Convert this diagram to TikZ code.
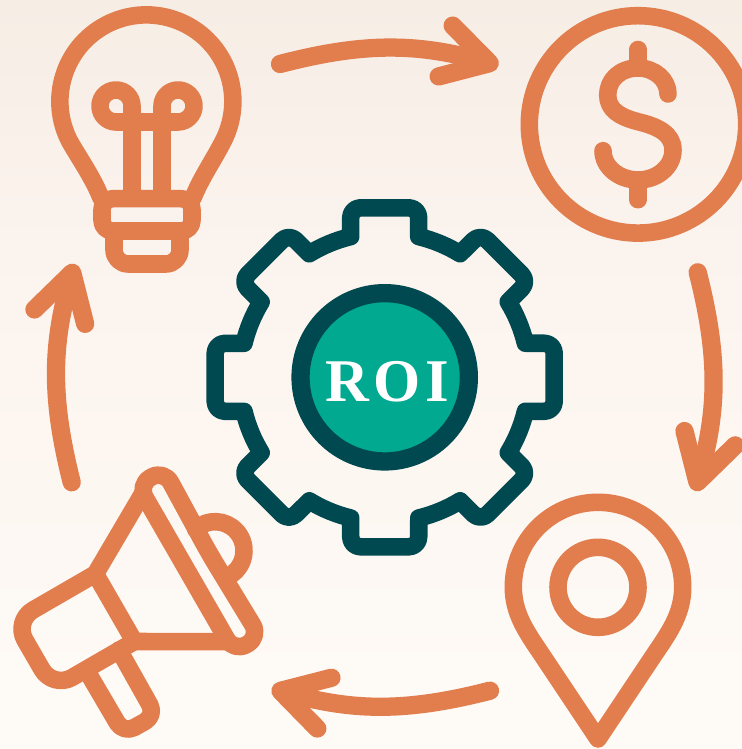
\documentclass[tikz,border=0pt]{standalone}
\usepackage{fontspec}
\usetikzlibrary{arrows.meta}
\newfontfamily\roifont[LetterSpace=8]{Liberation Serif}
\definecolor{iconorange}{HTML}{E27D4E}
\definecolor{geardark}{HTML}{014950}
\definecolor{roigreen}{HTML}{00A98F}
\definecolor{paper top}{HTML}{F6EEE5}
\definecolor{paper mid}{HTML}{FCF4EF}
\definecolor{paper low}{HTML}{FEFBF6}
\tikzset{
    icon/.style={draw=iconorange, line width=10pt, line cap=round, line join=round},
    cycle arrow/.style={icon, line width=10.4pt, bend left=15, -{Straight Barb[length=26pt 0 0, width=30pt 0 0, line width=0pt 1, round]}},
    gear/.style={draw=geardark, line width=10pt, line join=round},
    roi ring/.style={draw=geardark, fill=roigreen, circle, line width=10.4pt, minimum size=95.8pt, inner sep=0pt},
    roi text/.style={text=white, inner sep=0pt, font=\roifont\bfseries\fontsize{34.5}{34.5}\selectfont}
}
\begin{document}
\begin{tikzpicture}[x=0.02cm, y=-0.02cm]
        \useasboundingbox (0, 0) rectangle (742, 749);
        \clip (0, 0) rectangle (742, 749);
        \shade[top color=paper top, bottom color=paper mid] (0, 0) rectangle (742, 300);
        \shade[top color=paper mid, bottom color=paper low] (0, 300) rectangle (742, 749);

        % Arrow ends
        \coordinate (bulbOut) at (280, 64);
        \coordinate (coinIn) at (498.5, 65.6);
        \coordinate (coinOut) at (697.7, 272.3);
        \coordinate (pinIn) at (695, 491);
        \coordinate (pinOut) at (490, 690.7);
        \coordinate (hornIn) at (271.6, 688.4);
        \coordinate (hornOut) at (71.7, 482.3);
        \coordinate (bulbIn) at (74.7, 263.9);

        % Arrows
        \draw[cycle arrow] (bulbOut) to (coinIn);
        \draw[cycle arrow] (coinOut) to (pinIn);
        \draw[cycle arrow] (pinOut) to (hornIn);
        \draw[cycle arrow] (hornOut) to (bulbIn);

        % Bulb
        \draw[icon] (101, 198) .. controls (93, 178) and (81, 161) .. (70, 142) arc (152:388:86.5) .. controls (213, 161) and (201, 178) .. (193, 198);
        \draw[icon, rounded corners=6pt] (147, 198.7) -- (102, 198.7) -- (102, 231) -- (192, 231) -- (192, 198.7) -- cycle;
        \draw[icon, rounded corners=8pt] (114, 231) -- (114, 264) -- (180, 264) -- (180, 231);
        \draw[icon] (132, 198) -- (132, 106) arc (0:-270:16) -- (178, 122) arc (90:-180:16) -- (162, 198);

        % Coin
        \draw[icon] (638, 124.4) circle (108.7);
        \draw[icon] (638, 49.5) -- (638, 68);
        \draw[icon] (638, 180) -- (638, 199.7);
        \draw[icon] (668, 94) .. controls (668, 80) and (655, 68) .. (638, 68) .. controls (620, 68) and (607.7, 80) .. (607.7, 95) .. controls (607.7, 110) and (620, 117) .. (638, 121.7) .. controls (656, 126) and (673, 133) .. (673, 150) .. controls (673, 167) and (657, 180) .. (638, 180) .. controls (619, 180) and (603, 167) .. (603, 150.7);

        % Pin
        \draw[icon] (598, 739) -- (540, 652) .. controls (525, 630) and (513.3, 612) .. (513.3, 587) arc (180:360:84.7) .. controls (682.7, 612) and (671, 630) .. (656, 652) -- cycle;
        \draw[icon] (598, 587.3) circle (40);

        % Megaphone
        \draw[icon, rounded corners=8pt] (209, 553) -- (163.9, 469.9) -- (137.9, 484.9) -- (234, 651.8) -- (260, 636.8) -- cycle;
        \draw[icon] (142.8, 493.3) -- (95.4, 573.9);
        \draw[icon] (134.3, 641.5) -- (228.2, 641.7);
        \draw[icon] (95.4, 573.9) [rounded corners=12.5pt] -- (14, 621) -- (53, 688.5) [sharp corners] -- (134.3, 641.5) -- cycle;
        \draw[icon] (195.6, 529.1) arc (-132:70:29);
        \draw[icon, rounded corners=7pt] (86.3, 670) -- (123.5, 733.5) -- (155.8, 715.5) -- (119, 650);

        % Gear
        \begin{scope}[shift={(384.7, 377.3)}]
            \draw[gear] ([rotate=0]-34, -140.7) \foreach \a in {0, 45, ..., 315} {
                [rounded corners=5.6pt] -- ([rotate=-\a]-34, -169.5) -- ([rotate=-\a]34, -169.5) [sharp corners] -- ([rotate=-\a]34, -140.7) arc ({\a-76.4}:{\a-58.6}:144.7)
            } -- cycle;
        \end{scope}

        % ROI
        \node[roi ring] (roiRing) at (384.7, 377.3) {};
        \node[roi text] (roiLabel) at (387.5, 382) {ROI};
    \end{tikzpicture}
\end{document}
